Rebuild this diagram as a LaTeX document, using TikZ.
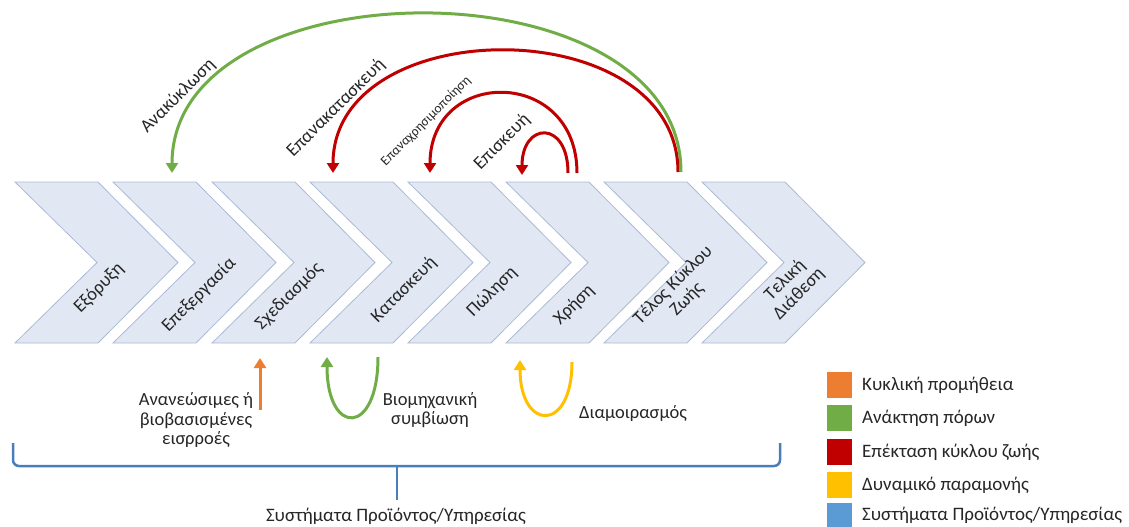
\documentclass[tikz,border=0pt]{standalone}
\usepackage{fontspec}
\setmainfont{Carlito}
\usetikzlibrary{arrows.meta}
\definecolor{chevfill}{RGB}{225,231,243}
\definecolor{chevline}{RGB}{172,186,214}
\definecolor{txtgray}{RGB}{38,38,38}
\definecolor{corange}{RGB}{237,125,49}
\definecolor{cgreen}{RGB}{112,173,71}
\definecolor{cred}{RGB}{192,0,0}
\definecolor{cyellow}{RGB}{255,192,0}
\definecolor{cblue}{RGB}{91,155,213}
\definecolor{cbrace}{RGB}{74,126,187}

\begin{document}
\begin{tikzpicture}
[x=1pt, y=1pt, every node/.style={inner sep=0pt, text=txtgray, font=\fontsize{18.5}{19.5}\selectfont},
 chev/.style={fill=chevfill, draw=chevline, line width=0.8pt},
 tag/.style={rotate=45, align=center},
 flow/.style={line width=3pt, -{Triangle[width=12pt, length=10pt]}},
 key/.style={minimum width=25pt, minimum height=26pt}]
\useasboundingbox (0,0) rectangle (1129,-527);
\foreach \x in {15,113,212,310,408,506,604,702}
  \draw [chev] (\x,-182) -- ++(83,0) -- ++(80,-80.5) -- ++(-80,-80.5) -- ++(-83,0) -- ++(82,80.5) -- cycle;
\node (s1) [tag] at (99,-288) {Εξόρυξη};
\node (s2) [tag] at (199,-295) {Επεξεργασία};
\node (s3) [tag] at (289,-296) {Σχεδιασμός};
\node (s4) [tag] at (404,-290) {Κατασκευή};
\node (s5) [tag] at (492,-292) {Πώληση};
\node (s6) [tag] at (574,-305) {Χρήση};
\node (s7) [tag] at (680,-292) {Τέλος Κύκλου\\Ζωής};
\node (s8) [tag] at (792,-287) {Τελική\\Διάθεση};
\coordinate (g0) at (681,-172);
\coordinate (g1) at (172,-173);
\coordinate (r0) at (678,-172);
\coordinate (r1) at (333,-173);
\coordinate (m0) at (577,-173);
\coordinate (m1) at (430,-173);
\coordinate (e0) at (568,-173);
\coordinate (e1) at (522,-175);
\draw [flow, color=cgreen] (g0) to [out=90, in=90, looseness=1.06] (g1);
\draw [flow, color=cred] (r0) to [out=90, in=90, looseness=1.2] (r1);
\draw [flow, color=cred] (m0) to [out=90, in=90, looseness=1.85] (m1);
\draw [flow, color=cred] (e0) to [out=90, in=90, looseness=2.96] (e1);
\node (a1) [tag] at (178,-96) {Ανακύκλωση};
\node (a2) [tag] at (336,-108) {Επανακατασκευή};
\node (a3) [tag, font=\fontsize{13.5}{15}\selectfont] at (426,-121) {Επαναχρησιμοποίηση};
\node (a4) [tag] at (502,-142) {Επισκευή};
\coordinate (o0) at (260,-410);
\coordinate (o1) at (260,-358);
\coordinate (b0) at (378,-357);
\coordinate (b1) at (327,-357);
\coordinate (y0) at (572,-362);
\coordinate (y1) at (520,-360);
\draw [flow, color=corange] (o0) -- (o1);
\draw [flow, color=cgreen] (b0) to [out=-90, in=-90, looseness=4] (b1);
\draw [flow, color=cyellow] (y0) to [out=-90, in=-90, looseness=3.5] (y1);
\node (i1) [align=center] at (196,-420) {Ανανεώσιμες ή\\βιοβασισμένες\\εισρροές};
\node (i2) [align=center] at (430,-410) {Βιομηχανική\\συμβίωση};
\node (i3) at (633,-413) {Διαμοιρασμός};
\coordinate (bl) at (13,-443);
\coordinate (br) at (780,-443);
\coordinate (bm) at (397,-466);
\draw [cbrace, line width=2.5pt, rounded corners=6pt] (bl) -- (13,-466) -- (780,-466) -- (br);
\draw [cbrace, line width=2.5pt] (bm) -- (397,-500);
\node (sys) [font=\fontsize{19}{20}\selectfont] at (396,-516) {Συστήματα Προϊόντος/Υπηρεσίας};
\node (k1) [key, fill=corange] at (839.5,-385) {};
\node (k2) [key, fill=cgreen] at (839.5,-418) {};
\node (k3) [key, fill=cred] at (839.5,-452) {};
\node (k4) [key, fill=cyellow] at (839.5,-485) {};
\node (k5) [key, fill=cblue] at (839.5,-516) {};
\tikzset{every node/.append style={font=\fontsize{19}{20}\selectfont}}
\node (l1) [anchor=west] at (862,-385) {Κυκλική προμήθεια};
\node (l2) [anchor=west] at (862,-418) {Ανάκτηση πόρων};
\node (l3) [anchor=west] at (862,-452) {Επέκταση κύκλου ζωής};
\node (l4) [anchor=west] at (862,-485) {Δυναμικό παραμονής};
\node (l5) [anchor=west] at (862,-515) {Συστήματα Προϊόντος/Υπηρεσίας};
\end{tikzpicture}
\end{document}
